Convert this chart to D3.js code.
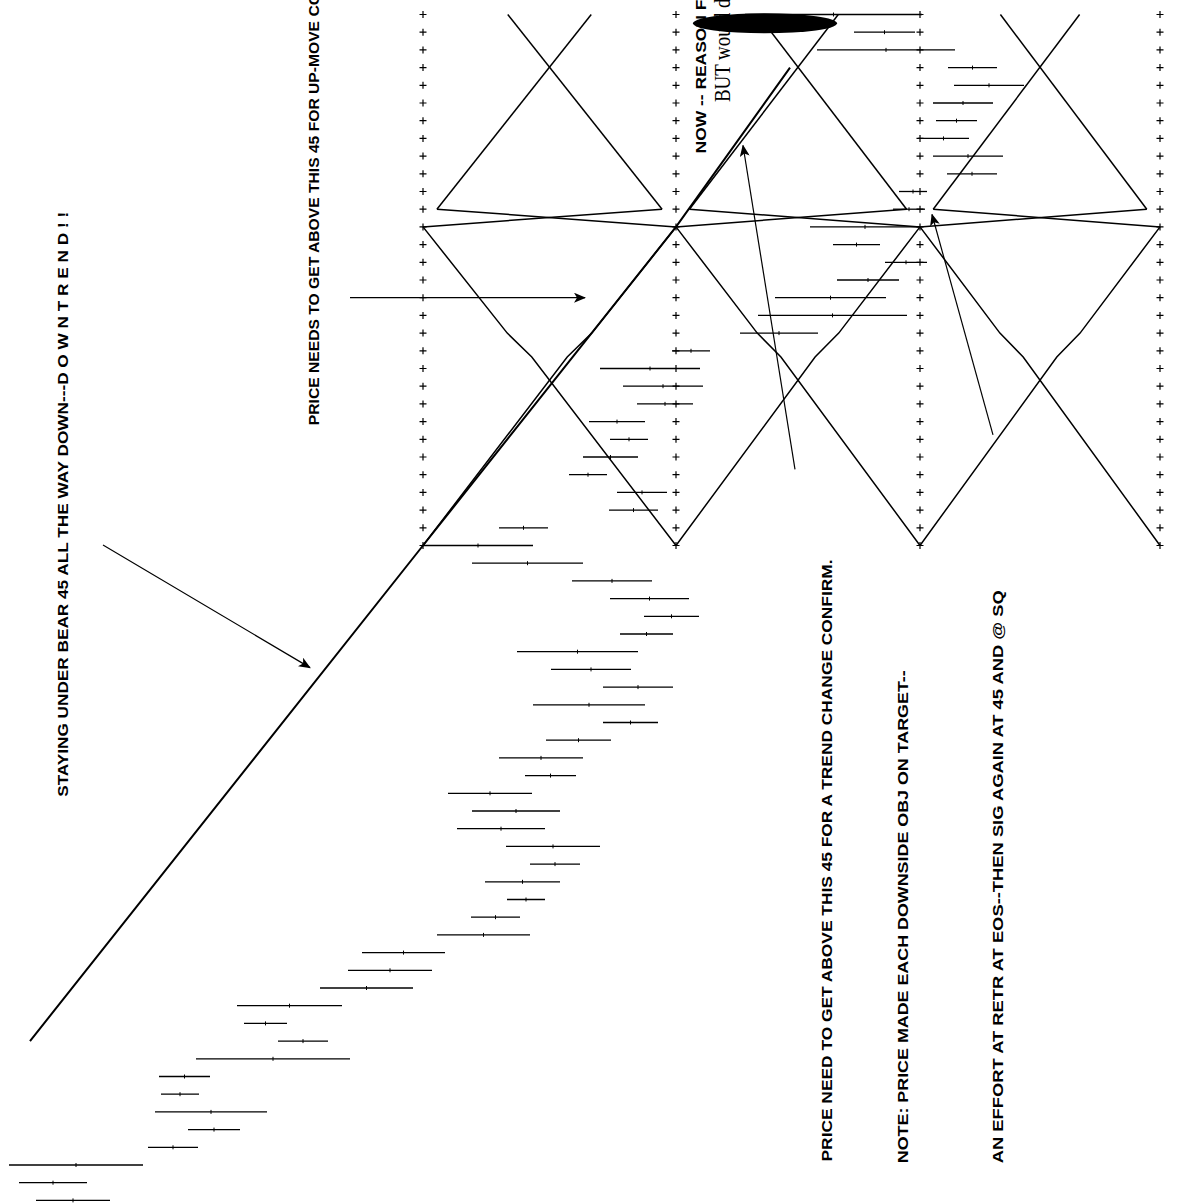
<!DOCTYPE html>
<html><head><meta charset="utf-8">
<script src="https://cdn.jsdelivr.net/npm/d3@7"></script>
<style>body{margin:0;background:#fff}svg{display:block}</style>
</head><body>
<script>
// ---- DATA (chart units: price axis runs left->right, time rows top->bottom) ----
// bar index 0 = top row of the rotated chart
const barLow  = [74.5,85.4,81.7,94.8,95.4,93.3,93.6,91.8,93.3,94.7,89.9,89.3,81.0,83.3,88.5,83.7,77.5,75.8,74.0,67.2,
                 60.0,62.3,63.7,58.9,61.0,58.3,56.9,61.7,60.9,49.9,42.3,47.2,57.2,61.0,64.4,62.0,51.7,55.1,60.3,53.3,
                 60.3,54.6,49.9,52.5,44.8,47.2,45.7,50.6,53.0,48.5,50.7,47.1,43.7,36.2,34.8,32.0,23.7,24.4,27.8,19.6,
                 15.9,16.1,15.5,18.8,14.8,0.9,1.9,3.6];
const barHigh = [92.2,91.5,95.5,99.7,102.4,99.3,97.7,96.9,100.3,99.7,92.7,92.5,92.0,88.0,92.7,89.9,88.6,90.7,81.8,71.0,
                 70.0,70.3,69.3,64.5,64.8,63.8,60.7,66.7,65.8,54.8,53.3,58.3,65.2,68.9,69.9,67.3,63.8,63.1,67.3,64.5,
                 65.8,61.1,58.3,57.6,53.2,56.0,54.5,60.0,58.0,56.0,54.5,52.0,53.0,44.5,43.2,41.3,34.2,28.7,32.8,35.0,
                 21.0,19.9,26.7,24.0,19.8,14.3,8.7,11.0];
const squareLevels = [42.3, 67.6, 92.0, 116.0];   // price levels of the square columns
const squareRows = d3.range(0, 31);                // time rows carrying the "+" marks
const bear45 = [[3.0, 58.0], [42.3, 30], [67.6, 12], [79.0, 3]]; // [price, row]
const notes = [
  {text:"STAYING UNDER BEAR 45 ALL THE WAY DOWN---D O W N T R E N D ! !", p:6.8, r:44.2, len:585},
  {text:"PRICE NEEDS TO GET ABOVE THIS 45 FOR UP-MOVE CO", p:31.9, r:23.2, len:432},
  {text:"PRICE NEED TO GET ABOVE THIS 45 FOR A TREND CHANGE CONFIRM.", p:83.2, r:64.8, len:602},
  {text:"NOTE:  PRICE MADE EACH DOWNSIDE OBJ ON TARGET--", p:90.8, r:64.9, len:493},
  {text:"AN EFFORT AT RETR AT EOS--THEN SIG AGAIN AT 45 AND @ SQ", p:100.3, r:64.9, len:573},
  {text:"NOW -- REASON FOR", p:70.6, r:7.85, len:180}
];
const arrows = [
  [[10.3, 29.97],[31.0, 36.9]],
  [[35.0, 16.0],[58.5, 16.0]],
  [[79.5, 25.7],[74.3, 7.4]],
  [[99.3, 23.75],[93.2, 11.3]]
];

// ---- SCALES ----
const W = 1177, H = 1204;
const x = d3.scaleLinear().domain([0, 117.7]).range([0, 1177]);
const y = d3.scaleLinear().domain([0, 67]).range([14.5, 14.5 + 67 * 17.7]);

const svg = d3.select("body").append("svg").attr("width", W).attr("height", H)
  .style("font-family", "'Liberation Sans', Arial, sans-serif");

svg.append("defs").append("marker")
  .attr("id","ah").attr("viewBox","0 0 12 10").attr("refX",11).attr("refY",5)
  .attr("markerWidth",12).attr("markerHeight",10).attr("markerUnits","userSpaceOnUse")
  .attr("orient","auto")
  .append("path").attr("d","M0,0 L12,5 L0,10 L3,5 Z").attr("fill","#000");

const line = d3.line().x(d => x(d[0])).y(d => y(d[1]));

// ---- Square of time/price: "+" columns ----
const plusG = svg.append("g").attr("stroke","#000").attr("stroke-width",1.2);
squareLevels.forEach(lv => {
  plusG.selectAll(null).data(squareRows).join("path")
    .attr("d", r => `M${x(lv)-3.5},${y(r)}H${x(lv)+3.5}M${x(lv)},${y(r)-3.5}V${y(r)+3.5}`);
});

// ---- Square angles ----
const geoG = svg.append("g").attr("fill","none").attr("stroke","#000").attr("stroke-width",1.5);
for (let i = 0; i < squareLevels.length - 1; i++) {
  const a = squareLevels[i], b = squareLevels[i+1];
  const p = f => a + f * (b - a);
  const paths = [
    [[p(0.335),0],[p(0.945),11]],
    [[p(0.665),0],[p(0.055),11]],
    [[p(0.055),11],[p(1),12]],
    [[p(0.945),11],[p(0),12]],
    [[p(0),12],[p(0.333),18],[p(0.43),19.35],[p(1),30]],
    [[p(1),12],[p(0.667),18],[p(0.57),19.35],[p(0),30]]
  ];
  paths.forEach(pts => geoG.append("path").attr("d", line(pts)));
}
// bear 45
svg.append("path").attr("d", line(bear45)).attr("fill","none").attr("stroke","#000").attr("stroke-width",2);

// ---- price bars ----
const bars = barLow.map((lo, i) => ({i, lo, hi: barHigh[i]}));
svg.append("g").attr("stroke","#000").attr("stroke-width",1.3)
  .selectAll("line").data(bars).join("line")
  .attr("x1", d => x(d.lo)).attr("x2", d => x(d.hi))
  .attr("y1", d => y(d.i)).attr("y2", d => y(d.i));
svg.append("g").attr("stroke","#000").attr("stroke-width",1)
  .selectAll("line").data(bars).join("line")
  .attr("x1", d => x((d.lo + d.hi) / 2)).attr("x2", d => x((d.lo + d.hi) / 2))
  .attr("y1", d => y(d.i) - 2).attr("y2", d => y(d.i) + 2);

// ---- arrows ----
svg.append("g").attr("stroke","#000").attr("stroke-width",1.2).attr("fill","none")
  .selectAll("path").data(arrows).join("path")
  .attr("d", d => line(d)).attr("marker-end","url(#ah)");

// ---- notes ----
notes.forEach(n => {
  svg.append("text").attr("transform", `translate(${x(n.p)},${y(n.r)}) rotate(-90)`)
    .attr("font-size", 14).attr("font-weight","bold")
    .attr("textLength", n.len).attr("lengthAdjust","spacingAndGlyphs")
    .text(n.text);
});
svg.append("text").attr("transform", `translate(${x(73.0)},${y(4.95)}) rotate(-90)`)
  .attr("font-family","'Liberation Serif', 'Times New Roman', serif").attr("font-size", 24)
  .attr("textLength", 112).attr("lengthAdjust","spacingAndGlyphs")
  .text("BUT would de");
// scribbled-out ellipse
svg.append("ellipse").attr("cx", x(76.5)).attr("cy", y(0.5)).attr("rx", 72).attr("ry", 10).attr("fill","#000");
</script>
</body></html>
